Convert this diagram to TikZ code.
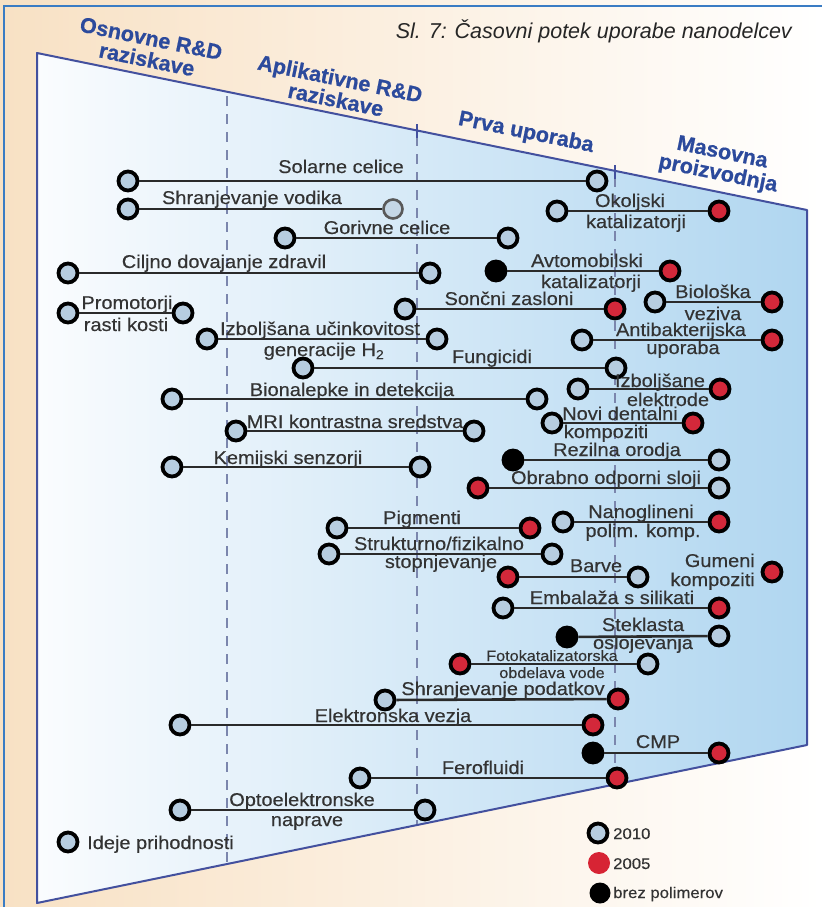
\documentclass[tikz,border=0pt]{standalone}
\usepackage{fontspec}
\setmainfont{Liberation Sans}
\newfontfamily\lblf[FakeStretch=1.08,FakeBold=0.35]{Liberation Sans}
\newfontfamily\hdrf[FakeBold=0.8]{Liberation Sans Bold}
\definecolor{ringc}{HTML}{B7CDE0}
\definecolor{redc}{HTML}{D3283A}
\definecolor{connc}{HTML}{2A2A2A}
\definecolor{txtc}{HTML}{333333}
\definecolor{hdrc}{HTML}{2C4A9C}
\definecolor{edgec}{HTML}{43509E}
\definecolor{dashc}{HTML}{7B86AD}
\definecolor{bgl}{HTML}{F8E1C4}
\definecolor{bgm}{HTML}{FBF0E4}
\definecolor{trl}{HTML}{FAFCFE}
\definecolor{trr}{HTML}{B0D6F0}
\definecolor{framec}{HTML}{3A7CC4}
\begin{document}
\begin{tikzpicture}[x=1pt,y=-1pt,
  lbl/.style={font=\lblf\fontsize{18.5}{21}\selectfont, text=txtc, inner sep=0pt, anchor=base},
  slbl/.style={lbl, font=\lblf\fontsize{15}{17}\selectfont},
  leg/.style={font=\lblf\fontsize{15.5}{17}\selectfont, text=txtc, inner sep=0pt, anchor=base west},
  hdr/.style={font=\hdrf\fontsize{21.5}{21.5}\selectfont, text=hdrc, rotate=-11.5, inner sep=0pt, align=center},
  dotbase/.style={circle, inner sep=0pt, minimum size=19pt, line width=3.8pt, draw=black},
  gdot/.style={dotbase, fill=ringc},
  gdotl/.style={dotbase, fill=ringc!80!white, draw=black!65, line width=2.6pt},
  rdot/.style={dotbase, fill=redc},
  bdot/.style={dotbase, fill=black},
  conn/.style={line width=2.6pt, draw=connc},
  vdash/.style={draw=dashc, line width=1.8pt, dash pattern=on 10pt off 8pt},
]
\useasboundingbox (0,0) rectangle (822,907);
% background
\shade[left color=bgl, middle color=bgm, right color=white] (0,0) rectangle (822,907);
\draw[framec, line width=2pt] (4,907) -- (4,6) -- (822,6);
% trapezoid
\shade[left color=trl, right color=trr] (37,53) -- (807,210) -- (807,745) -- (37,903) -- cycle;
\draw[edgec, line width=2pt, line join=round] (37,53) -- (807,210) -- (807,745) -- (37,903) -- cycle;
% phase separators
\draw[vdash] (227,96) -- (227,863);
\draw[vdash] (417,136) -- (417,824);
\draw[vdash] (615,177) -- (615,784);
\draw[edgec, line width=1.5pt] (417,124) -- (417,138);
\draw[edgec, line width=1.5pt] (615,165) -- (615,179);
% title and headers
\node[font=\itshape\fontsize{21.5}{23}\selectfont, text=black!85, anchor=base east, inner sep=0pt] (title) at (792,38) {Sl. 7: Časovni potek uporabe nanodelcev};
\node[hdr] (h1) at (149,49) {Osnovne R\&D\\raziskave};
\node[hdr] (h2) at (338,89) {Aplikativne R\&D\\raziskave};
\node[hdr] (h3) at (526,133) {Prva uporaba};
\node[hdr] (h4) at (720,164) {Masovna\\proizvodnja};
% rows
\node[gdot] (a1) at (128,181) {}; \node[gdot] (b1) at (597,181) {}; \draw[conn] (a1) -- (b1);
\node[lbl] (l1) at (341,173) {Solarne celice};
\node[gdot] (a2) at (128,209) {}; \node[gdotl] (b2) at (393,209) {}; \draw[conn] (a2) -- (b2);
\node[lbl] (l2) at (252,204) {Shranjevanje vodika};
\node[gdot] (a3) at (557,211) {}; \node[rdot] (b3) at (719,211) {}; \draw[conn] (a3) -- (b3);
\node[lbl] (l3a) at (630,207) {Okoljski}; \node[lbl] (l3b) at (636,228) {katalizatorji};
\node[gdot] (a4) at (285,238) {}; \node[gdot] (b4) at (508,238) {}; \draw[conn] (a4) -- (b4);
\node[lbl] (l4) at (387,234) {Gorivne celice};
\node[gdot] (a5) at (68,273) {}; \node[gdot] (b5) at (430,273) {}; \draw[conn] (a5) -- (b5);
\node[lbl] (l5) at (224,268) {Ciljno dovajanje zdravil};
\node[bdot] (a6) at (496,271) {}; \node[rdot] (b6) at (670,271) {}; \draw[conn] (a6) -- (b6);
\node[lbl] (l6a) at (587,267) {Avtomobilski}; \node[lbl] (l6b) at (591,288) {katalizatorji};
\node[gdot] (a7) at (68,313) {}; \node[gdot] (b7) at (183,313) {}; \draw[conn] (a7) -- (b7);
\node[lbl] (l7a) at (127,309) {Promotorji}; \node[lbl] (l7b) at (126,331) {rasti kosti};
\node[gdot] (a8) at (405,309) {}; \node[rdot] (b8) at (615,309) {}; \draw[conn] (a8) -- (b8);
\node[lbl] (l8) at (509,305) {Sončni zasloni};
\node[gdot] (a9) at (655,302) {}; \node[rdot] (b9) at (772,302) {}; \draw[conn] (a9) -- (b9);
\node[lbl] (l9a) at (713,298) {Biološka}; \node[lbl] (l9b) at (713,320) {veziva};
\node[gdot] (a10) at (207,339) {}; \node[gdot] (b10) at (437,339) {}; \draw[conn] (a10) -- (b10);
\node[lbl] (l10a) at (320,335) {Izboljšana učinkovitost}; \node[lbl] (l10b) at (324,356) {generacije H\textsubscript{2}};
\node[gdot] (a11) at (582,340) {}; \node[rdot] (b11) at (772,340) {}; \draw[conn] (a11) -- (b11);
\node[lbl] (l11a) at (681,336) {Antibakterijska}; \node[lbl] (l11b) at (683,354) {uporaba};
\node[gdot] (a12) at (303,368) {}; \node[gdot] (b12) at (616,368) {}; \draw[conn] (a12) -- (b12);
\node[lbl] (l12) at (492,363) {Fungicidi};
\node[gdot] (a13) at (172,399) {}; \node[gdot] (b13) at (537,399) {}; \draw[conn] (a13) -- (b13);
\node[lbl] (l13) at (352,396) {Bionalepke in detekcija};
\node[gdot] (a14) at (578,389) {}; \node[rdot] (b14) at (720,389) {}; \draw[conn] (a14) -- (b14);
\node[lbl] (l14a) at (660,387) {Izboljšane}; \node[lbl] (l14b) at (668,406) {elektrode};
\node[gdot] (a15) at (236,431) {}; \node[gdot] (b15) at (474,431) {}; \draw[conn] (a15) -- (b15);
\node[lbl] (l15) at (355,428) {MRI kontrastna sredstva};
\node[gdot] (a16) at (552,423) {}; \node[rdot] (b16) at (693,423) {}; \draw[conn] (a16) -- (b16);
\node[lbl] (l16a) at (620,420) {Novi dentalni}; \node[lbl] (l16b) at (606,438) {kompoziti};
\node[gdot] (a17) at (172,467) {}; \node[gdot] (b17) at (420,467) {}; \draw[conn] (a17) -- (b17);
\node[lbl] (l17) at (288,464) {Kemijski senzorji};
\node[bdot] (a18) at (513,460) {}; \node[gdot] (b18) at (719,460) {}; \draw[conn] (a18) -- (b18);
\node[lbl] (l18) at (617,456) {Rezilna orodja};
\node[rdot] (a19) at (478,488) {}; \node[gdot] (b19) at (719,488) {}; \draw[conn] (a19) -- (b19);
\node[lbl] (l19) at (606,484) {Obrabno odporni sloji};
\node[gdot] (a20) at (563,522) {}; \node[rdot] (b20) at (719,522) {}; \draw[conn] (a20) -- (b20);
\node[lbl] (l20a) at (641,518) {Nanoglineni}; \node[lbl] (l20b) at (643,537) {polim. komp.};
\node[gdot] (a21) at (337,528) {}; \node[rdot] (b21) at (530,528) {}; \draw[conn] (a21) -- (b21);
\node[lbl] (l21) at (422,524) {Pigmenti};
\node[gdot] (a22) at (329,554) {}; \node[gdot] (b22) at (552,554) {}; \draw[conn] (a22) -- (b22);
\node[lbl] (l22a) at (439,550) {Strukturno/fizikalno}; \node[lbl] (l22b) at (441,568) {stopnjevanje};
\node[rdot] (c23) at (772,572) {};
\node[lbl, anchor=base east] (l23a) at (755,567) {Gumeni}; \node[lbl, anchor=base east] (l23b) at (755,586) {kompoziti};
\node[rdot] (a24) at (508,577) {}; \node[gdot] (b24) at (638,577) {}; \draw[conn] (a24) -- (b24);
\node[lbl] (l24) at (596,572) {Barve};
\node[gdot] (a25) at (503,608) {}; \node[rdot] (b25) at (719,608) {}; \draw[conn] (a25) -- (b25);
\node[lbl] (l25) at (612,604) {Embalaža s silikati};
\node[bdot] (a26) at (567,637) {}; \node[gdot] (b26) at (719,636) {}; \draw[conn] (a26) -- (b26);
\node[lbl] (l26a) at (643,631) {Steklasta}; \node[lbl] (l26b) at (643,649) {oslojevanja};
\node[rdot] (a27) at (460,664) {}; \node[gdot] (b27) at (648,664) {}; \draw[conn] (a27) -- (b27);
\node[slbl] (l27a) at (552,661) {Fotokatalizatorska}; \node[slbl] (l27b) at (552,678) {obdelava vode};
\node[gdot] (a28) at (385,700) {}; \node[rdot] (b28) at (618,699) {}; \draw[conn] (a28) -- (b28);
\node[lbl] (l28) at (503,695) {Shranjevanje podatkov};
\node[gdot] (a29) at (180,725) {}; \node[rdot] (b29) at (593,725) {}; \draw[conn] (a29) -- (b29);
\node[lbl] (l29) at (393,722) {Elektronska vezja};
\node[bdot] (a30) at (593,753) {}; \node[rdot] (b30) at (719,753) {}; \draw[conn] (a30) -- (b30);
\node[lbl] (l30) at (658,748) {CMP};
\node[gdot] (a31) at (360,778) {}; \node[rdot] (b31) at (617,778) {}; \draw[conn] (a31) -- (b31);
\node[lbl] (l31) at (483,774) {Ferofluidi};
\node[gdot] (a32) at (180,810) {}; \node[gdot] (b32) at (425,810) {}; \draw[conn] (a32) -- (b32);
\node[lbl] (l32a) at (302,806) {Optoelektronske}; \node[lbl] (l32b) at (307,826) {naprave};
% legends
\node[gdot] (k1) at (68,842) {};
\node[lbl, anchor=base west] (k1t) at (87,849) {Ideje prihodnosti};
\node[gdot] (k2) at (598,833) {};
\node[leg] (k2t) at (613,839) {2010};
\node[circle, inner sep=0pt, minimum size=22pt, fill=redc!90!red] (k3) at (599,863) {};
\node[leg] (k3t) at (613,869) {2005};
\node[circle, inner sep=0pt, minimum size=21pt, fill=black] (k4) at (600,893) {};
\node[leg] (k4t) at (613,898) {brez polimerov};
\end{tikzpicture}
\end{document}
